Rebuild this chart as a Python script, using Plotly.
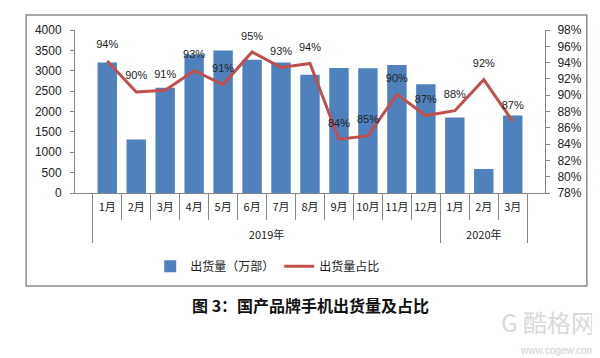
import plotly.graph_objects as go

years = ["2019年"] * 12 + ["2020年"] * 3
months = ["1月", "2月", "3月", "4月", "5月", "6月", "7月", "8月", "9月", "10月", "11月", "12月",
          "1月", "2月", "3月"]
shipments = [3200, 1310, 2580, 3400, 3500, 3270, 3200, 2900, 3070, 3060, 3140, 2670, 1850, 590, 1900]
share = [94.2, 90.4, 90.6, 93.0, 91.3, 95.3, 93.4, 93.9, 84.6, 85.0, 90.1, 87.5, 88.1, 91.9, 86.8]
share_labels = ["94%", "90%", "91%", "93%", "91%", "95%", "93%", "94%", "84%", "85%", "90%",
                "87%", "88%", "92%", "87%"]

FONT = "Noto Sans CJK SC, Liberation Sans, sans-serif"
NUMFONT = "Liberation Sans, sans-serif"
AX = "#868686"

# extra blank line under month labels pushes the year row lower (as in the reference)
month_ticks = [m + "<br>&nbsp;" for m in months]
xcat = [years, month_ticks]

fig = go.Figure()
fig.add_trace(go.Bar(
    x=xcat, y=shipments, name="出货量（万部）",
    marker=dict(color="#4F81BD", line=dict(width=0)),
))
fig.add_trace(go.Scatter(
    x=xcat, y=share, name="出货量占比", yaxis="y2",
    mode="lines+markers+text", text=share_labels, textposition="top center",
    marker=dict(size=14, color="rgba(0,0,0,0)"),
    textfont=dict(size=11, color="#222222", family=NUMFONT),
    line=dict(color="#C0504D", width=3),
))

fig.update_layout(
    width=592, height=350,
    margin=dict(l=67, r=55, t=22, b=165, autoexpand=False),
    paper_bgcolor="white", plot_bgcolor="white",
    font=dict(family=FONT, size=12, color="#222222"),
    bargap=0.33,
    showlegend=True,
    legend=dict(orientation="h", x=0.16, xanchor="left", y=-0.36, yanchor="top",
                font=dict(size=12, family=FONT, color="#222222"), itemwidth=30,
                tracegroupgap=0),
    xaxis=dict(type="multicategory", showline=True, linecolor=AX, linewidth=1,
               ticks="outside", tickson="boundaries", ticklen=26, tickcolor=AX,
               showdividers=True, dividercolor=AX, dividerwidth=1, tickangle=0,
               automargin=False, ticklabelstandoff=4,
               tickfont=dict(size=11, family=FONT, color="#222222"),
               showgrid=False),
    yaxis=dict(range=[0, 4000], dtick=500, showline=True, linecolor=AX, ticks="outside",
               ticklen=4, tickcolor=AX, showgrid=False, zeroline=False, automargin=False,
               ticklabelstandoff=6,
               tickfont=dict(size=12, family=NUMFONT, color="#222222")),
    yaxis2=dict(range=[78, 98], dtick=2, ticksuffix="%", overlaying="y", side="right",
                showline=True, linecolor=AX, ticks="outside", ticklen=4, tickcolor=AX,
                showgrid=False, zeroline=False, automargin=False, ticklabelstandoff=5,
                tickfont=dict(size=12, family=NUMFONT, color="#222222")),
    shapes=[
        dict(type="rect", xref="paper", yref="paper", x0=-0.104, x1=1.089, y0=-0.571, y1=1.092,
             line=dict(color="#8C8C8C", width=1.5), fillcolor="rgba(0,0,0,0)", layer="below"),
    ],
    annotations=[
        dict(text="<b>图 3：国产品牌手机出货量及占比</b>", xref="paper", yref="paper",
             x=0.5, y=-0.69, xanchor="center", yanchor="middle", showarrow=False,
             font=dict(size=16, family=FONT, color="#111111")),
        dict(text="G 酷格网", xref="paper", yref="paper", x=1.11, y=-0.79,
             xanchor="right", yanchor="middle", showarrow=False,
             font=dict(size=24, family=FONT, color="#DADADA")),
        dict(text="www.cogew.com", xref="paper", yref="paper", x=1.11, y=-0.965,
             xanchor="right", yanchor="middle", showarrow=False,
             font=dict(size=10, family=NUMFONT, color="#D0D0D0")),
    ],
)

fig.write_html("out.html")
